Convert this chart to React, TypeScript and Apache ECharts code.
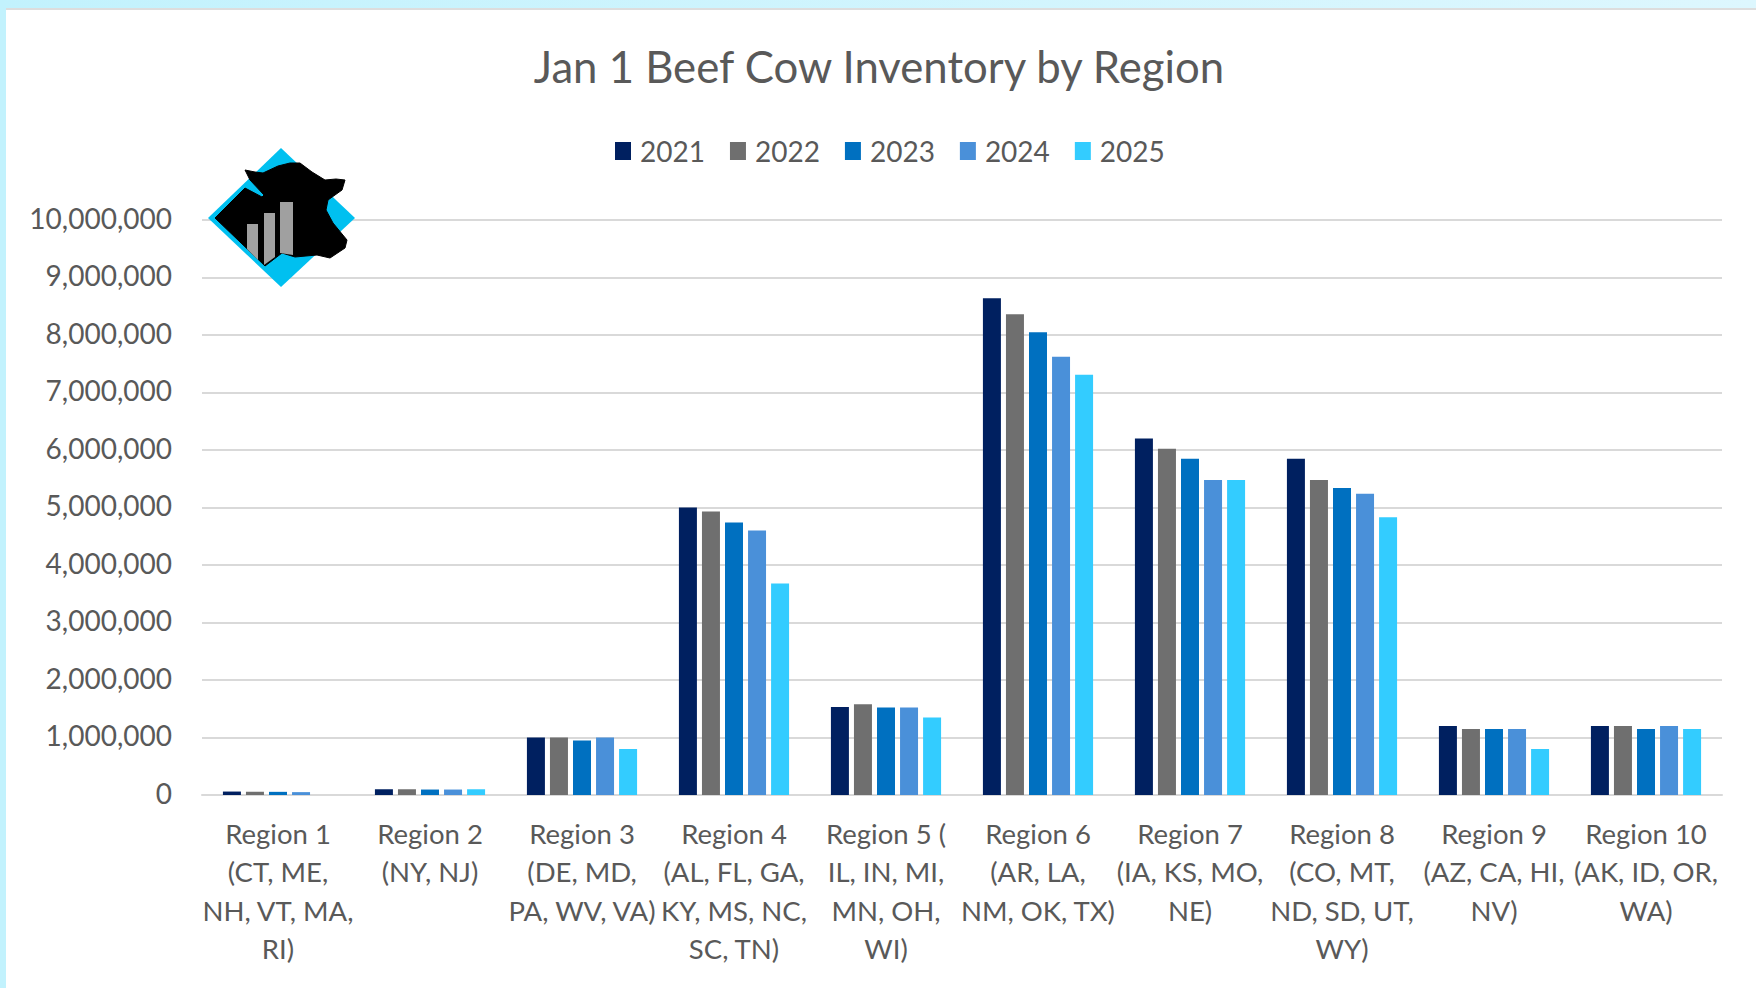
import React, { useEffect, useRef } from "react";
import * as echarts from "echarts";

const regions = [
  "Region 1\n(CT, ME,\nNH, VT, MA,\nRI)",
  "Region 2\n(NY, NJ)",
  "Region 3\n(DE, MD,\nPA, WV, VA)",
  "Region 4\n(AL, FL, GA,\nKY, MS, NC,\nSC, TN)",
  "Region 5 (\nIL, IN, MI,\nMN, OH,\nWI)",
  "Region 6\n(AR, LA,\nNM, OK, TX)",
  "Region 7\n(IA, KS, MO,\nNE)",
  "Region 8\n(CO, MT,\nND, SD, UT,\nWY)",
  "Region 9\n(AZ, CA, HI,\nNV)",
  "Region 10\n(AK, ID, OR,\nWA)",
];
const v2021 = [60000, 100000, 1000000, 5000000, 1530000, 8640000, 6200000, 5850000, 1200000, 1200000];
const v2022 = [55000, 100000, 1000000, 4930000, 1580000, 8360000, 6020000, 5480000, 1150000, 1200000];
const v2023 = [55000, 95000, 950000, 4740000, 1520000, 8050000, 5850000, 5340000, 1150000, 1150000];
const v2024 = [50000, 95000, 1000000, 4600000, 1520000, 7620000, 5480000, 5240000, 1150000, 1200000];
const v2025 = [null, 100000, 800000, 3680000, 1350000, 7310000, 5480000, 4830000, 800000, 1150000];
const years = ["2021", "2022", "2023", "2024", "2025"];
const colors = ["#002060", "#6F6F6F", "#0070C0", "#4A90D9", "#33CCFF"];
const values = [v2021, v2022, v2023, v2024, v2025];

const FONT = "Lato, sans-serif";
const TEXT = "#595959";

const cow = [
  [215, 218], [245, 188], [262, 197], [264, 195], [250, 180], [245, 170], [255, 172], [263, 173],
  [278, 166], [290, 163], [300, 163], [312, 172], [325, 180], [336, 179], [345, 180], [342, 190],
  [328, 200], [326, 210], [333, 223], [347, 240], [345, 248], [330, 258], [317, 255], [295, 257],
  [282, 253], [265, 266],
];

export default function App() {
  const ref = useRef<HTMLDivElement>(null);
  useEffect(() => {
    document.documentElement.style.overflow = "hidden";
    document.body.style.margin = "0";
    const chart = echarts.init(ref.current!, null, { renderer: "svg" });
    chart.setOption({
      animation: false,
      backgroundColor: "transparent",
      textStyle: { fontFamily: FONT },
      title: {
        text: "Jan 1 Beef Cow Inventory by Region",
        left: 874,
        top: 39,
        textAlign: "center",
        textStyle: { fontFamily: FONT, fontSize: 43.7, fontWeight: 400, color: TEXT },
      },
      legend: {
        data: years,
        top: 132,
        left: 610,
        itemWidth: 16,
        itemHeight: 18,
        itemGap: 25,
        icon: "rect",
        textStyle: { fontFamily: FONT, fontSize: 28, color: TEXT, padding: [0, 0, 0, 4] },
      },
      grid: { left: 202, right: 34, top: 220, bottom: 193 },
      xAxis: {
        type: "category",
        data: regions,
        axisTick: { show: false },
        axisLine: { lineStyle: { color: "#D9D9D9", width: 2 } },
        axisLabel: { interval: 0, margin: 19, fontFamily: FONT, fontSize: 27.5, lineHeight: 38.5, color: TEXT, align: "center" },
      },
      yAxis: {
        type: "value",
        min: 0,
        max: 10000000,
        interval: 1000000,
        axisLine: { show: false },
        axisTick: { show: false },
        splitLine: { lineStyle: { color: "#D9D9D9", width: 2 } },
        axisLabel: {
          margin: 30,
          fontFamily: FONT,
          fontSize: 28,
          color: TEXT,
          formatter: (v: number) => "{a|" + v.toLocaleString("en-US") + "}",
          rich: { a: { fontFamily: FONT, fontSize: 28, color: TEXT, lineHeight: 28, padding: [0, 0, 5, 0] } },
        },
      },
      series: years.map((name, i) => ({
        name,
        type: "bar",
        data: values[i],
        barWidth: 18,
        barGap: "28%",
        itemStyle: { color: colors[i] },
      })),
      graphic: [
        { type: "polygon", z: 100, shape: { points: [[281, 148], [355, 218], [281, 287], [208, 218]] }, style: { fill: "#00C0F0" } },
        { type: "polygon", z: 101, shape: { points: cow }, style: { fill: "#000000", stroke: "#000000", lineWidth: 1, lineJoin: "round" } },
        { type: "polygon", z: 102, shape: { points: [[247, 224], [258, 224], [258, 260], [247, 249]] }, style: { fill: "#A0A0A0" } },
        { type: "polygon", z: 102, shape: { points: [[264, 213], [275, 213], [275, 257], [264, 265]] }, style: { fill: "#A0A0A0" } },
        { type: "polygon", z: 102, shape: { points: [[280, 202], [293, 202], [293, 255], [280, 253]] }, style: { fill: "#A0A0A0" } },
      ],
    });
    return () => chart.dispose();
  }, []);
  return (
    <div style={{ position: "relative", width: 1756, height: 988, background: "linear-gradient(90deg,#C2F2FD,#DDF7FE)", overflow: "hidden" }}>
      <div style={{ position: "absolute", left: 6, top: 8, right: 0, bottom: 0, background: "#FFFFFF", borderTop: "2px solid #DDDDDD" }} />
      <div ref={ref} style={{ position: "absolute", left: 0, top: 0, width: 1756, height: 988 }} />
    </div>
  );
}
